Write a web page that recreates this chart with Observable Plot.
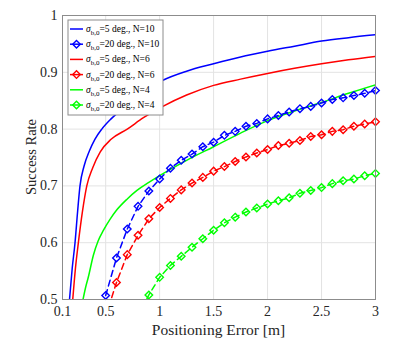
<!DOCTYPE html>
<html><head><meta charset="utf-8">
<script src="https://cdn.jsdelivr.net/npm/d3@7"></script>
<script src="https://cdn.jsdelivr.net/npm/@observablehq/plot@0.6"></script>
<style>
body{margin:0;background:#fff}
#chart{position:relative;width:415px;height:346px}
</style>
</head><body><div id="chart"></div>
<script>
// ---- data ----
const xTicks = [0.1, 0.5, 1, 1.5, 2, 2.5, 3];
const xTickLabels = ["0.1", "0.5", "1", "1.5", "2", "2.5", "3"];
const yTicks = [0.5, 0.6, 0.7, 0.8, 0.9, 1];
const yTickLabels = ["0.5", "0.6", "0.7", "0.8", "0.9", "1"];
const xTitle = "Positioning Error [m]";
const yTitle = "Success Rate";

const seriesLabels = ["=5 deg., N=10", "=20 deg., N=10", "=5 deg., N=6", "=20 deg., N=6", "=5 deg., N=4", "=20 deg., N=4"];
const seriesColors = ["#0000ff", "#0000ff", "#ff0000", "#ff0000", "#00ff00", "#00ff00"];

// sigma_b,0 = 5 deg (solid)
const n10SolidX = [0.165, 0.19, 0.216, 0.24, 0.262, 0.3, 0.35, 0.4, 0.464, 0.55, 0.65, 0.75, 0.9, 1.03, 1.25, 1.5, 1.75, 2, 2.25, 2.5, 2.75, 3];
const n10SolidY = [0.5, 0.555, 0.6, 0.655, 0.7, 0.735, 0.762, 0.782, 0.8, 0.818, 0.835, 0.852, 0.872, 0.886, 0.902, 0.915, 0.927, 0.937, 0.946, 0.955, 0.961, 0.966];
const n6SolidX = [0.195, 0.22, 0.247, 0.285, 0.325, 0.38, 0.45, 0.55, 0.7, 0.85, 1.03, 1.25, 1.5, 1.75, 2, 2.25, 2.5, 2.75, 3];
const n6SolidY = [0.5, 0.555, 0.6, 0.655, 0.7, 0.732, 0.76, 0.782, 0.8, 0.82, 0.84, 0.86, 0.877, 0.888, 0.898, 0.907, 0.915, 0.922, 0.928];
const n4SolidX = [0.29, 0.315, 0.34, 0.386, 0.43, 0.48, 0.54, 0.6, 0.7, 0.79, 0.9, 1.0, 1.25, 1.5, 1.75, 2, 2.25, 2.5, 2.75, 3];
const n4SolidY = [0.5, 0.522, 0.54, 0.578, 0.603, 0.622, 0.641, 0.657, 0.677, 0.692, 0.706, 0.718, 0.745, 0.769, 0.793, 0.815, 0.832, 0.847, 0.863, 0.878];

// sigma_b,0 = 20 deg (dashed with diamonds)
const n10DashX = [0.5, 0.6, 0.7, 0.8, 0.9, 1.0, 1.1, 1.2, 1.3, 1.4, 1.5, 1.6, 1.7, 1.8, 1.9, 2.0, 2.1, 2.2, 2.3, 2.4, 2.5, 2.6, 2.7, 2.8, 2.9, 3.0];
const n10DashY = [0.507, 0.573, 0.624, 0.664, 0.691, 0.712, 0.731, 0.745, 0.756, 0.769, 0.777, 0.789, 0.796, 0.805, 0.810, 0.818, 0.824, 0.830, 0.836, 0.840, 0.846, 0.852, 0.855, 0.859, 0.863, 0.868];
const n6DashX = [0.5, 0.6, 0.7, 0.8, 0.9, 1.0, 1.1, 1.2, 1.3, 1.4, 1.5, 1.6, 1.7, 1.8, 1.9, 2.0, 2.1, 2.2, 2.3, 2.4, 2.5, 2.6, 2.7, 2.8, 2.9, 3.0];
const n6DashY = [0.47, 0.530, 0.579, 0.613, 0.642, 0.662, 0.678, 0.693, 0.705, 0.715, 0.726, 0.734, 0.743, 0.751, 0.758, 0.764, 0.771, 0.775, 0.780, 0.787, 0.790, 0.796, 0.799, 0.805, 0.809, 0.813];
const n4DashX = [0.8, 0.9, 1.0, 1.1, 1.2, 1.3, 1.4, 1.5, 1.6, 1.7, 1.8, 1.9, 2.0, 2.1, 2.2, 2.3, 2.4, 2.5, 2.6, 2.7, 2.8, 2.9, 3.0];
const n4DashY = [0.47, 0.508, 0.539, 0.560, 0.576, 0.592, 0.607, 0.622, 0.635, 0.645, 0.654, 0.661, 0.668, 0.674, 0.679, 0.687, 0.692, 0.697, 0.704, 0.709, 0.712, 0.718, 0.722];

// ---- build tables ----
const toRows = (xs, ys) => xs.map((x, i) => ({x, y: ys[i]}));
const solidSeries = [
  {rows: toRows(n10SolidX, n10SolidY), color: seriesColors[0]},
  {rows: toRows(n6SolidX, n6SolidY), color: seriesColors[2]},
  {rows: toRows(n4SolidX, n4SolidY), color: seriesColors[4]}
];
const dashSeries = [
  {rows: toRows(n10DashX, n10DashY), color: seriesColors[1]},
  {rows: toRows(n6DashX, n6DashY), color: seriesColors[3]},
  {rows: toRows(n4DashX, n4DashY), color: seriesColors[5]}
];

const FONT = "'Liberation Serif', 'Times New Roman', serif";
const marks = [
  Plot.ruleX(xTicks, {stroke: "#e3e3e3"}),
  Plot.ruleY(yTicks, {stroke: "#e3e3e3"})
];
for (const s of solidSeries) {
  marks.push(Plot.line(s.rows, {x: "x", y: "y", stroke: s.color, strokeWidth: 1.5, curve: "monotone-x", clip: true}));
}
for (const s of dashSeries) {
  marks.push(Plot.line(s.rows, {x: "x", y: "y", stroke: s.color, strokeWidth: 1.5, strokeDasharray: "6,4", clip: true}));
  marks.push(Plot.dot(s.rows.filter(d => d.y >= 0.5), {x: "x", y: "y", symbol: "diamond2", r: 3.4, stroke: s.color, strokeWidth: 1.4, fill: "none"}));
}
marks.push(Plot.frame({stroke: "#8c8c8c"}));

const W = 415, H = 346, ML = 62, MR = 40, MT = 15, MB = 47;
const svg = Plot.plot({
  width: W,
  height: H,
  marginLeft: ML,
  marginRight: MR,
  marginTop: MT,
  marginBottom: MB,
  style: {fontFamily: FONT, fontSize: "14px", color: "#262626", background: "#fff"},
  x: {domain: [0.1, 3], ticks: xTicks, tickFormat: (d) => xTickLabels[xTicks.indexOf(d)], tickSize: 0, tickPadding: 7, label: null, line: false},
  y: {domain: [0.5, 1], ticks: yTicks, tickFormat: (d) => yTickLabels[yTicks.indexOf(d)], tickSize: 0, tickPadding: 5, label: null, line: false},
  marks
});

const root = d3.select(svg);
// axis titles
root.append("text").attr("x", ML + (W - ML - MR) / 2).attr("y", 335)
  .attr("text-anchor", "middle").attr("font-size", 15.5).attr("fill", "#262626").style("font-family", FONT).text(xTitle);
root.append("text").attr("transform", `translate(36,${MT + (H - MT - MB) / 2}) rotate(-90)`)
  .attr("text-anchor", "middle").attr("font-size", 14.5).attr("fill", "#262626").style("font-family", FONT).text(yTitle);

// ---- legend inside the plot ----
const lg = root.append("g").attr("transform", "translate(68,20)");
lg.append("rect").attr("width", 95).attr("height", 95).attr("fill", "#fff").attr("stroke", "#8c8c8c").attr("stroke-width", 1);
seriesLabels.forEach((lab, i) => {
  const cy = 9 + i * 15.2;
  const g = lg.append("g").attr("transform", `translate(0,${cy})`);
  const col = seriesColors[i];
  g.append("line").attr("x1", 2).attr("x2", 15).attr("y1", 0).attr("y2", 0).attr("stroke", col).attr("stroke-width", 1.5);
  if (i % 2 === 1) {
    g.append("path").attr("d", d3.symbol(d3.symbolDiamond2, Math.PI * 3.4 * 3.4)()).attr("transform", "translate(8.5,0)").attr("fill", "none").attr("stroke", col).attr("stroke-width", 1.4);
  }
  const t = g.append("text").attr("x", 18).attr("y", 3).attr("font-size", 9.5).attr("fill", "#000")
    .attr("text-anchor", "start").style("font-family", FONT);
  t.append("tspan").attr("font-style", "italic").text("σ");
  t.append("tspan").attr("font-size", 7).attr("dy", 3).text("b,0");
  t.append("tspan").attr("dy", -3).text(lab);
});

document.getElementById("chart").appendChild(svg);
</script>
</body></html>
